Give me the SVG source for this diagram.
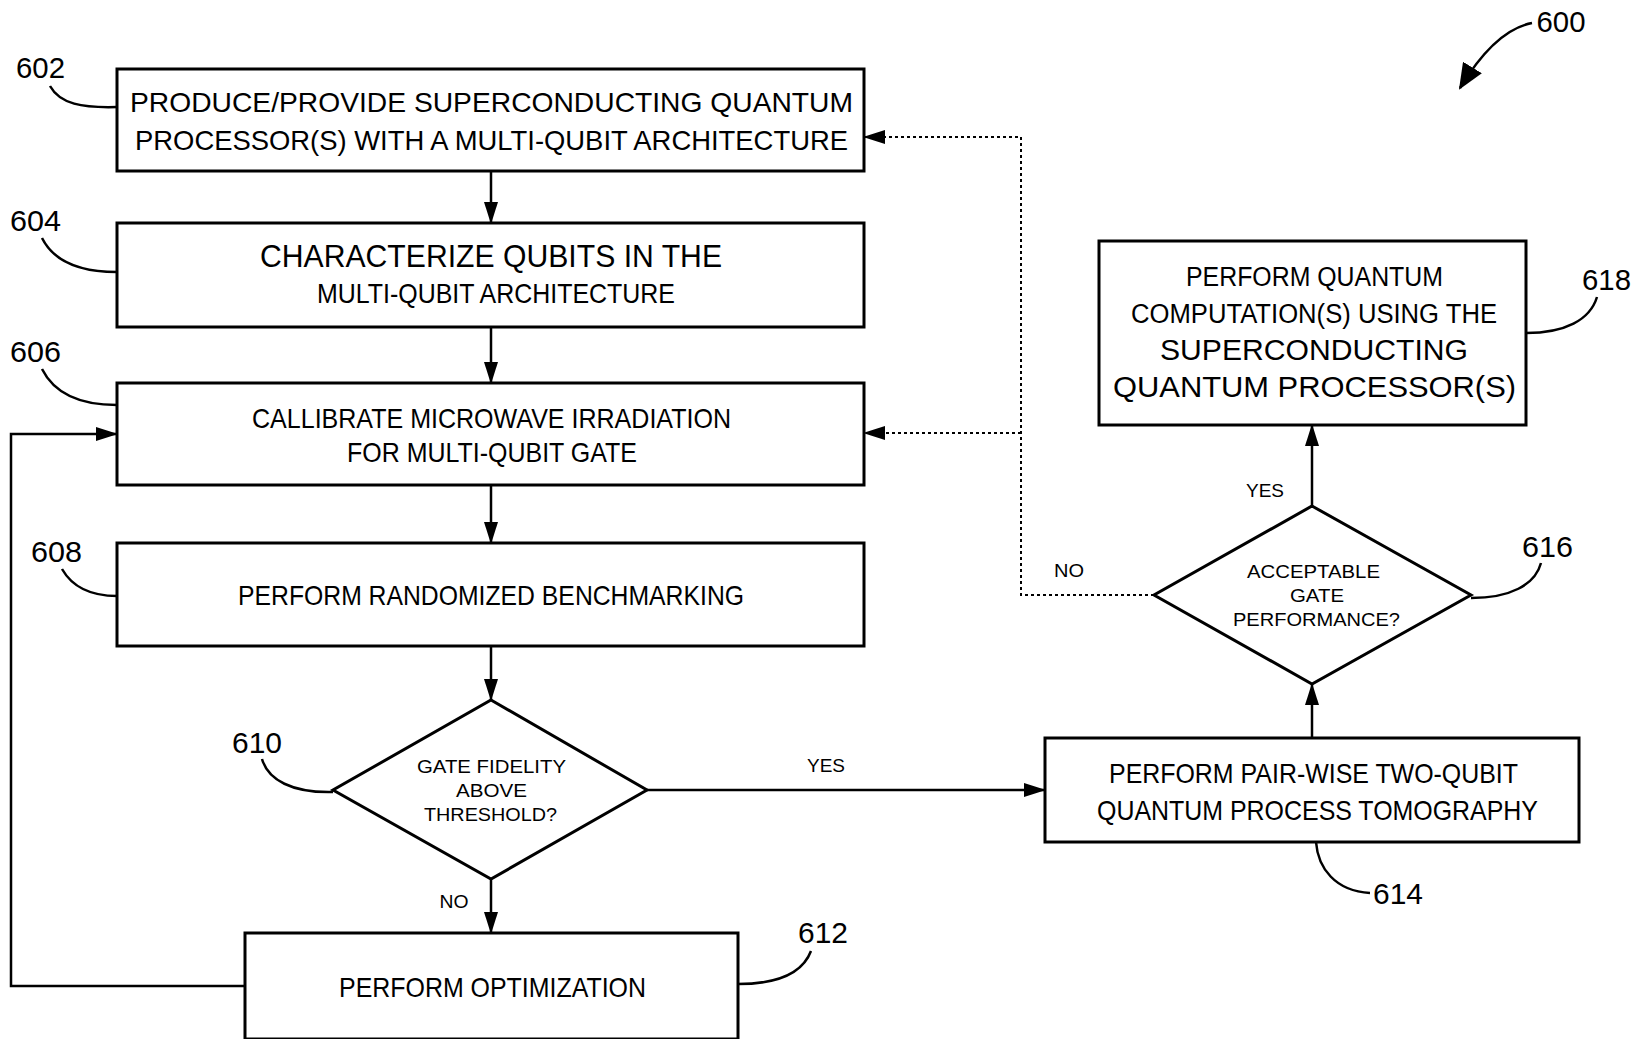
<svg xmlns="http://www.w3.org/2000/svg" width="1644" height="1039" viewBox="0 0 1644 1039">
<defs>
<marker id="ah" markerWidth="22" markerHeight="14" refX="21" refY="7" orient="auto" markerUnits="userSpaceOnUse">
<path d="M0,0 L22,7 L0,14 Z" fill="#000"/>
</marker>
<marker id="ah600" markerWidth="26" markerHeight="22" refX="24" refY="11" orient="auto" markerUnits="userSpaceOnUse">
<path d="M0,0 L26,11 L0,22 Z" fill="#000"/>
</marker>
</defs>
<style>
.box{fill:#fff;stroke:#000;stroke-width:3}
.t{font-family:"Liberation Sans",Arial,sans-serif;font-size:28px;fill:#000;text-anchor:middle}
.s{font-family:"Liberation Sans",Arial,sans-serif;font-size:19px;fill:#000;text-anchor:middle}
.n{font-family:"Liberation Sans",Arial,sans-serif;font-size:30px;fill:#000;text-anchor:middle}
.c{fill:none;stroke:#000;stroke-width:2.5}
.d{fill:none;stroke:#000;stroke-width:2;stroke-dasharray:3 3}
.lead{fill:none;stroke:#000;stroke-width:2.5}
</style>
<rect width="1644" height="1039" fill="#fff"/>

<g id="connectors">
<line class="c" x1="491" y1="171" x2="491" y2="223" marker-end="url(#ah)"/>
<line class="c" x1="491" y1="327" x2="491" y2="383" marker-end="url(#ah)"/>
<line class="c" x1="491" y1="485" x2="491" y2="543" marker-end="url(#ah)"/>
<line class="c" x1="491" y1="646" x2="491" y2="700" marker-end="url(#ah)"/>
<line class="c" x1="491" y1="879" x2="491" y2="933" marker-end="url(#ah)"/>
<line class="c" x1="647" y1="790" x2="1045" y2="790" marker-end="url(#ah)"/>
<line class="c" x1="1312" y1="738" x2="1312" y2="684" marker-end="url(#ah)"/>
<line class="c" x1="1312" y1="506" x2="1312" y2="425" marker-end="url(#ah)"/>
<polyline class="c" points="245,986 11,986 11,434 117,434" marker-end="url(#ah)"/>
<polyline class="d" points="1154,595 1021,595 1021,137 864,137" marker-end="url(#ah)"/>
<line class="d" x1="1021" y1="433" x2="864" y2="433" marker-end="url(#ah)"/>
<text class="s" x="826" y="772" textLength="38" lengthAdjust="spacingAndGlyphs">YES</text>
<text class="s" x="454" y="908" textLength="29" lengthAdjust="spacingAndGlyphs">NO</text>
<text class="s" x="1265" y="497" textLength="38" lengthAdjust="spacingAndGlyphs">YES</text>
<text class="s" x="1069" y="577" textLength="30" lengthAdjust="spacingAndGlyphs">NO</text>
</g>

<g id="n600">
<path class="lead" d="M1532,23 C1505,28 1480,55 1460,88" marker-end="url(#ah600)"/>
<text class="n" x="1561" y="32" textLength="49" lengthAdjust="spacingAndGlyphs">600</text>
</g>

<g id="n602">
<rect class="box" x="117" y="69" width="747" height="102"/>
<text class="t" x="491.5" y="112" textLength="723" lengthAdjust="spacingAndGlyphs">PRODUCE/PROVIDE SUPERCONDUCTING QUANTUM</text>
<text class="t" x="491.5" y="150" textLength="713" lengthAdjust="spacingAndGlyphs">PROCESSOR(S) WITH A MULTI-QUBIT ARCHITECTURE</text>
<path class="lead" d="M50,86 C60,104 82,108 117,107"/>
<text class="n" x="40.5" y="78" textLength="49" lengthAdjust="spacingAndGlyphs">602</text>
</g>

<g id="n604">
<rect class="box" x="117" y="223" width="747" height="104"/>
<text class="t" x="491" y="267" textLength="462" lengthAdjust="spacingAndGlyphs" style="font-size:31px">CHARACTERIZE QUBITS IN THE</text>
<text class="t" x="496" y="303" textLength="358" lengthAdjust="spacingAndGlyphs">MULTI-QUBIT ARCHITECTURE</text>
<path class="lead" d="M42,238 C54,262 80,272 117,272"/>
<text class="n" x="35.5" y="231" textLength="51" lengthAdjust="spacingAndGlyphs">604</text>
</g>

<g id="n606">
<rect class="box" x="117" y="383" width="747" height="102"/>
<text class="t" x="491.5" y="428" textLength="479" lengthAdjust="spacingAndGlyphs">CALLIBRATE MICROWAVE IRRADIATION</text>
<text class="t" x="492" y="462" textLength="290" lengthAdjust="spacingAndGlyphs">FOR MULTI-QUBIT GATE</text>
<path class="lead" d="M42,369 C54,393 80,405 117,405"/>
<text class="n" x="35.5" y="362" textLength="51" lengthAdjust="spacingAndGlyphs">606</text>
</g>

<g id="n608">
<rect class="box" x="117" y="543" width="747" height="103"/>
<text class="t" x="491" y="605" textLength="506" lengthAdjust="spacingAndGlyphs">PERFORM RANDOMIZED BENCHMARKING</text>
<path class="lead" d="M62,569 C74,590 94,596 117,596"/>
<text class="n" x="56.5" y="562" textLength="51" lengthAdjust="spacingAndGlyphs">608</text>
</g>

<g id="n610">
<polygon class="box" points="491,700 647,790 491,879 333,790"/>
<text class="s" x="491.5" y="773" textLength="149" lengthAdjust="spacingAndGlyphs">GATE FIDELITY</text>
<text class="s" x="491.5" y="797" textLength="71" lengthAdjust="spacingAndGlyphs">ABOVE</text>
<text class="s" x="490.5" y="821" textLength="133" lengthAdjust="spacingAndGlyphs">THRESHOLD?</text>
<path class="lead" d="M262,759 C268,780 292,793 333,792"/>
<text class="n" x="257" y="753" textLength="50" lengthAdjust="spacingAndGlyphs">610</text>
</g>

<g id="n612">
<rect class="box" x="245" y="933" width="493" height="106"/>
<text class="t" x="492.5" y="997" textLength="307" lengthAdjust="spacingAndGlyphs">PERFORM OPTIMIZATION</text>
<path class="lead" d="M811,951 C803,972 780,984 738,984"/>
<text class="n" x="823" y="943" textLength="50" lengthAdjust="spacingAndGlyphs">612</text>
</g>

<g id="n614">
<rect class="box" x="1045" y="738" width="534" height="104"/>
<text class="t" x="1313.5" y="783" textLength="409" lengthAdjust="spacingAndGlyphs">PERFORM PAIR-WISE TWO-QUBIT</text>
<text class="t" x="1317.5" y="820" textLength="441" lengthAdjust="spacingAndGlyphs">QUANTUM PROCESS TOMOGRAPHY</text>
<path class="lead" d="M1316,842 C1318,868 1335,891 1370,893"/>
<text class="n" x="1398" y="904" textLength="50" lengthAdjust="spacingAndGlyphs">614</text>
</g>

<g id="n616">
<polygon class="box" points="1312,506 1471,595 1312,684 1154,595"/>
<text class="s" x="1313.5" y="578" textLength="133" lengthAdjust="spacingAndGlyphs">ACCEPTABLE</text>
<text class="s" x="1317" y="602" textLength="54" lengthAdjust="spacingAndGlyphs">GATE</text>
<text class="s" x="1316.5" y="626" textLength="167" lengthAdjust="spacingAndGlyphs">PERFORMANCE?</text>
<path class="lead" d="M1541,563 C1535,585 1510,598 1471,598"/>
<text class="n" x="1547.5" y="557" textLength="51" lengthAdjust="spacingAndGlyphs">616</text>
</g>

<g id="n618">
<rect class="box" x="1099" y="241" width="427" height="184"/>
<text class="t" x="1314.5" y="286" textLength="257" lengthAdjust="spacingAndGlyphs" style="font-size:27px">PERFORM QUANTUM</text>
<text class="t" x="1314" y="323" textLength="366" lengthAdjust="spacingAndGlyphs" style="font-size:27px">COMPUTATION(S)  USING THE</text>
<text class="t" x="1314" y="360" textLength="308" lengthAdjust="spacingAndGlyphs" style="font-size:30px">SUPERCONDUCTING</text>
<text class="t" x="1314.5" y="397" textLength="403" lengthAdjust="spacingAndGlyphs" style="font-size:30px">QUANTUM  PROCESSOR(S)</text>
<path class="lead" d="M1597,297 C1590,320 1565,333 1526,333"/>
<text class="n" x="1606.5" y="290" textLength="49" lengthAdjust="spacingAndGlyphs">618</text>
</g>
</svg>
